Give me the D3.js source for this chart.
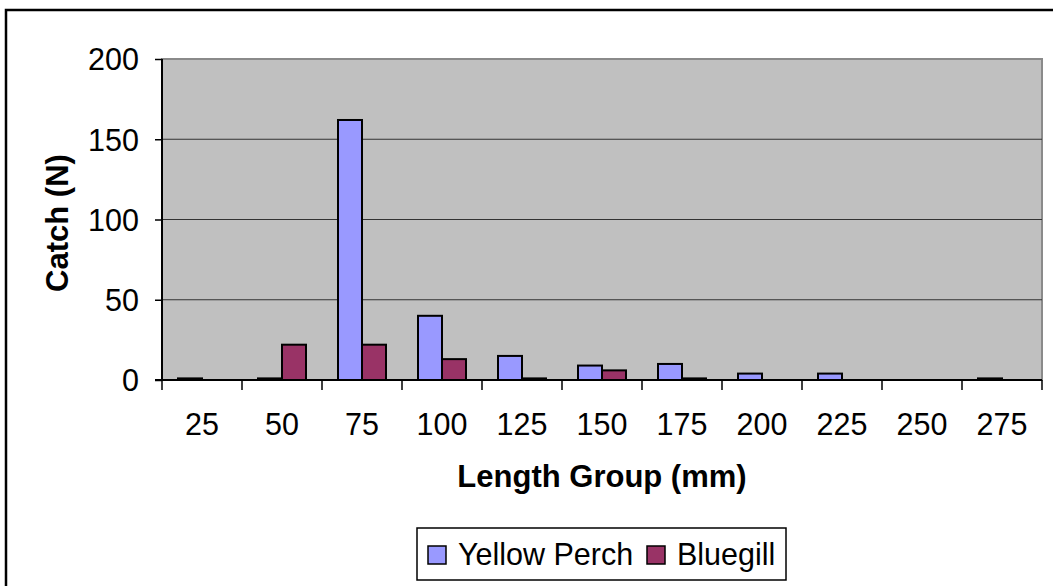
<!DOCTYPE html>
<html>
<head>
<meta charset="utf-8">
<script src="https://cdn.jsdelivr.net/npm/d3@7"></script>
<style>
  html, body { margin: 0; padding: 0; background: #fff; }
  svg { display: block; font-family: "Liberation Sans", Arial, sans-serif; }
</style>
</head>
<body>
<svg id="chart"></svg>
<script>
// length groups (mm)
var lengthGroups = ["25", "50", "75", "100", "125", "150", "175", "200", "225", "250", "275"];
// catch counts
var yellowPerch = [1, 1, 162, 40, 15, 9, 10, 4, 4, 0, 1];
var bluegill = [0, 22, 22, 13, 1, 6, 1, 0, 0, 0, 0];
var yTicks = [0, 50, 100, 150, 200];
var seriesNames = ["Yellow Perch", "Bluegill"];
var seriesColors = ["#9999FF", "#993366"];

var W = 1053, H = 586;
var plot = { left: 162, right: 1042, top: 59, bottom: 380 };

var svg = d3.select("#chart").attr("width", W).attr("height", H);

// outer chart frame (runs off the right / bottom edge)
svg.append("rect")
    .attr("x", 6).attr("y", 10)
    .attr("width", W + 20).attr("height", H + 20)
    .attr("fill", "#fff")
    .attr("stroke", "#000")
    .attr("stroke-width", 2.5);

var x = d3.scaleBand().domain(lengthGroups).range([plot.left, plot.right]).padding(0);
var y = d3.scaleLinear().domain([0, 200]).range([plot.bottom, plot.top]);

// plot area
svg.append("rect")
    .attr("x", plot.left).attr("y", plot.top)
    .attr("width", plot.right - plot.left).attr("height", plot.bottom - plot.top)
    .attr("fill", "#C0C0C0")
    .attr("stroke", "#8a8a8a")
    .attr("stroke-width", 2);

// gridlines
svg.append("g").selectAll("line")
    .data(yTicks.filter(function (d) { return d > 0 && d < 200; }))
    .enter().append("line")
    .attr("x1", plot.left).attr("x2", plot.right)
    .attr("y1", function (d) { return y(d); })
    .attr("y2", function (d) { return y(d); })
    .attr("stroke", "#333")
    .attr("stroke-width", 1.2);

// bars
var bw = x.bandwidth() * 0.3;
var off = x.bandwidth() * 0.2;
var seriesData = [yellowPerch, bluegill];

seriesData.forEach(function (vals, si) {
    svg.append("g").selectAll("rect")
        .data(vals)
        .enter().append("rect")
        .attr("x", function (d, i) { return x(lengthGroups[i]) + off + si * bw; })
        .attr("y", function (d) { return y(d); })
        .attr("width", bw)
        .attr("height", function (d) { return y(0) - y(d); })
        .attr("fill", seriesColors[si])
        .attr("stroke", "#000")
        .attr("stroke-width", 2)
        .style("display", function (d) { return d > 0 ? null : "none"; });
});

// y axis
var yAxis = svg.append("g")
    .attr("transform", "translate(" + plot.left + ",0)")
    .call(d3.axisLeft(y).tickValues(yTicks).tickSize(7).tickPadding(16));
yAxis.select(".domain").attr("stroke", "#000").attr("stroke-width", 2)
    .attr("d", "M0," + plot.top + "V" + plot.bottom);
yAxis.selectAll(".tick line").attr("stroke", "#000").attr("stroke-width", 1.5);
yAxis.selectAll(".tick text")
    .attr("fill", "#000")
    .style("font-size", "30.5px")
    .attr("dy", "0.36em");

// x axis: ticks on category boundaries
var xAxisG = svg.append("g").attr("transform", "translate(0," + plot.bottom + ")");
xAxisG.append("line")
    .attr("x1", plot.left - 7).attr("x2", plot.right)
    .attr("stroke", "#000").attr("stroke-width", 2);
xAxisG.selectAll(".bt")
    .data(lengthGroups.concat(["end"]))
    .enter().append("line")
    .attr("class", "bt")
    .attr("x1", function (d, i) { return i < lengthGroups.length ? x(d) : plot.right; })
    .attr("x2", function (d, i) { return i < lengthGroups.length ? x(d) : plot.right; })
    .attr("y1", 0).attr("y2", 10)
    .attr("stroke", "#000").attr("stroke-width", 1.5);
xAxisG.selectAll(".lbl")
    .data(lengthGroups)
    .enter().append("text")
    .attr("class", "lbl")
    .attr("x", function (d) { return x(d) + x.bandwidth() / 2; })
    .attr("y", 55)
    .attr("text-anchor", "middle")
    .style("font-size", "30.5px")
    .text(function (d) { return d; });

// axis titles
svg.append("text")
    .attr("x", (plot.left + plot.right) / 2)
    .attr("y", 487)
    .attr("text-anchor", "middle")
    .style("font-size", "31px")
    .style("font-weight", "bold")
    .text("Length Group (mm)");

svg.append("text")
    .attr("transform", "translate(68," + 223 + ") rotate(-90)")
    .attr("text-anchor", "middle")
    .style("font-size", "31px")
    .style("font-weight", "bold")
    .text("Catch (N)");

// legend
var legend = svg.append("g");
legend.append("rect")
    .attr("x", 417).attr("y", 528)
    .attr("width", 369).attr("height", 52)
    .attr("fill", "#fff").attr("stroke", "#000").attr("stroke-width", 1.5);

var legendX = [428, 647];
seriesNames.forEach(function (name, i) {
    legend.append("rect")
        .attr("x", legendX[i]).attr("y", 546)
        .attr("width", 18).attr("height", 18)
        .attr("fill", seriesColors[i])
        .attr("stroke", "#000").attr("stroke-width", 1.5);
    legend.append("text")
        .attr("x", legendX[i] + 30).attr("y", 565)
        .style("font-size", "30.5px")
        .text(name);
});
</script>
</body>
</html>
